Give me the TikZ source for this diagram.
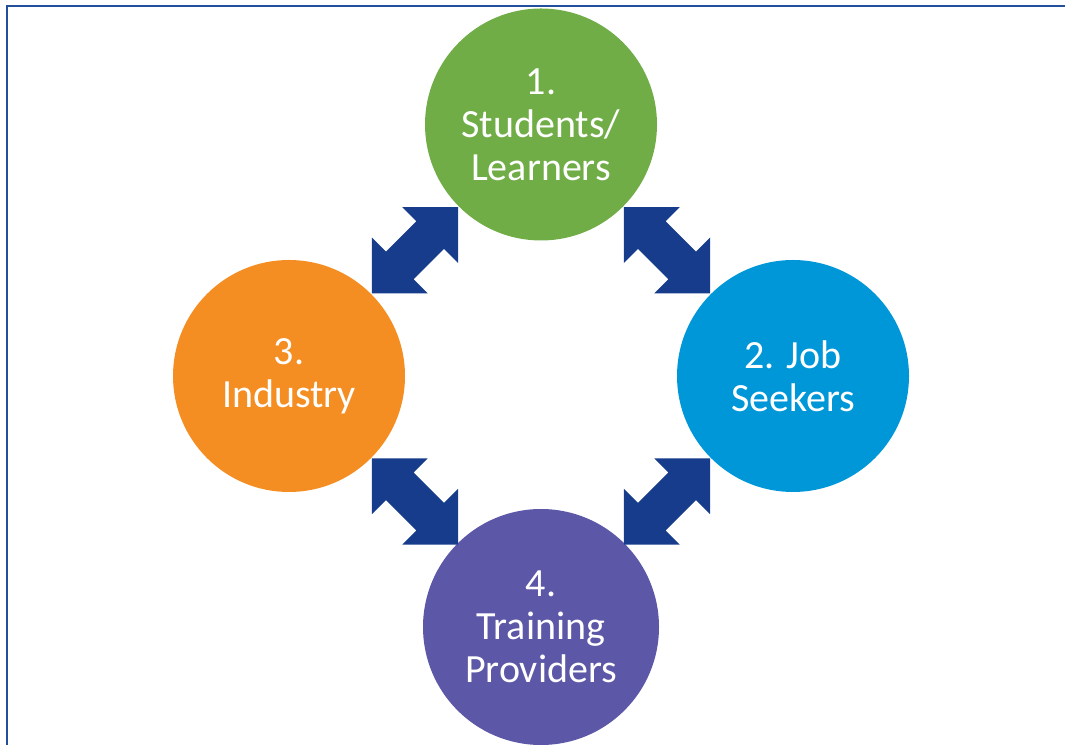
\documentclass[tikz,border=0pt]{standalone}
\usepackage{fontspec}
\setmainfont{Carlito}
\definecolor{cgreen}{RGB}{112,173,71}
\definecolor{cblue}{RGB}{0,151,217}
\definecolor{corange}{RGB}{245,142,34}
\definecolor{cpurple}{RGB}{92,87,166}
\definecolor{carrow}{RGB}{22,60,139}
\definecolor{cframe}{RGB}{35,78,158}
\newcommand\dblarrow[2]{%
  \fill[arrowfill, shift={(#1)}, rotate=#2]
    (61,0) -- (21.5,39.5) -- (21.5,19.5) -- (-21.5,19.5) -- (-21.5,39.5)
    -- (-61,0) -- (-21.5,-39.5) -- (-21.5,-19.5) -- (21.5,-19.5)
    -- (21.5,-39.5) -- cycle;}
\begin{document}
\begin{tikzpicture}[x=1pt,y=1pt,
  bubble/.style={circle, minimum size=232pt, inner sep=0pt, text=white,
    align=center, font=\fontsize{40}{43}\selectfont},
  arrowfill/.style={fill=carrow},
  frameline/.style={draw=cframe, line width=2pt}]
\useasboundingbox (0,0) rectangle (1065,744);
\begin{scope}
  \clip (0,0) rectangle (1065,744);
  \draw[frameline] (7,738) rectangle (1090,-20);
  \node[bubble, fill=cgreen] (n1) at (541,619.5) {1.\\Students/\\Learners};
  \node[bubble, fill=cblue] (n2) at (793,368) {2. Job\\Seekers};
  \node[bubble, fill=corange] (n3) at (289,368) {3.\\Industry};
  \node[bubble, fill=cpurple, minimum size=236pt] (n4) at (541,117) {4.\\Training\\Providers};
  \path (n1.center) -- (n3.center) coordinate[midway] (a13);
  \path (n1.center) -- (n2.center) coordinate[midway] (a12);
  \path (n3.center) -- (n4.center) coordinate[midway] (a34);
  \path (n4.center) -- (n2.center) coordinate[midway] (a42);
  \dblarrow{a13}{45}
  \dblarrow{a12}{-45}
  \dblarrow{a34}{-45}
  \dblarrow{a42}{45}
\end{scope}
\end{tikzpicture}
\end{document}
